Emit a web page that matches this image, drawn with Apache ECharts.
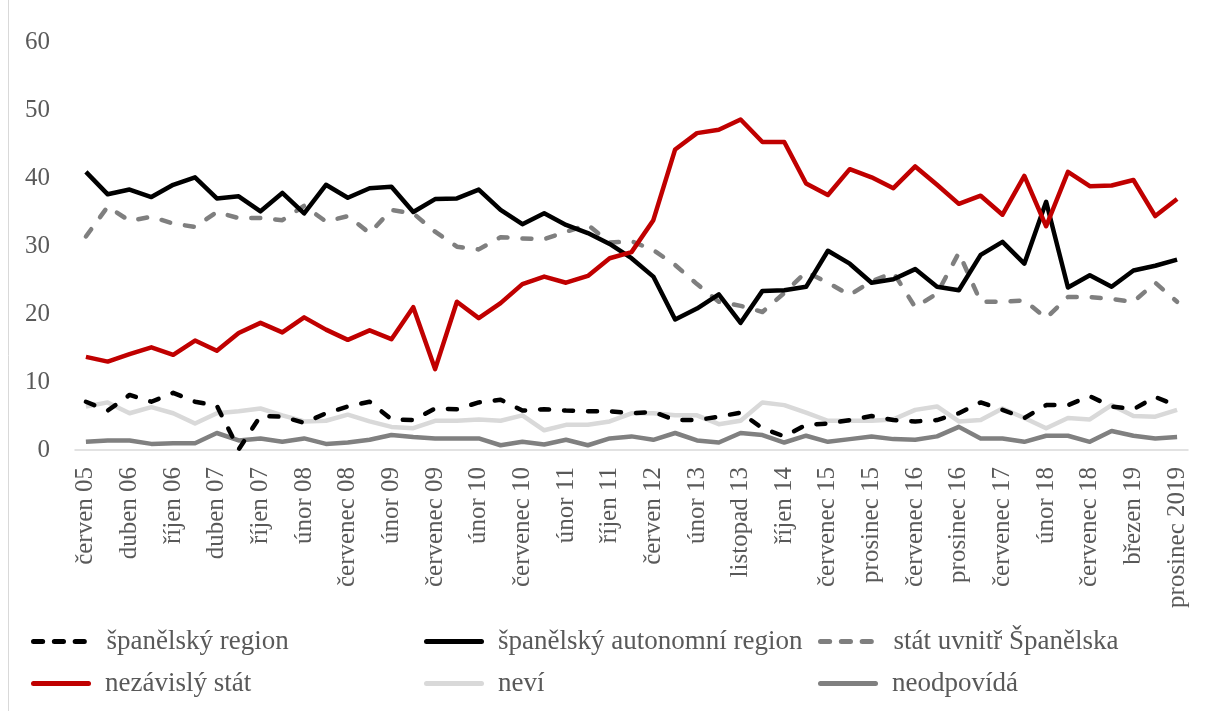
<!DOCTYPE html>
<html>
<head>
<meta charset="utf-8">
<script src="https://cdn.jsdelivr.net/npm/echarts@6/dist/echarts.min.js"></script>
<style>
html,body{margin:0;padding:0;background:#fff;}
#chart{width:1208px;height:711px;}
</style>
</head>
<body>
<div id="chart"></div>
<script>
const categories = [
  'červen 05','listopad 05','duben 06','červenec 06','říjen 06','leden 07','duben 07','červenec 07','říjen 07','prosinec 07',
  'únor 08','duben 08','červenec 08','listopad 08','únor 09','duben 09','červenec 09','listopad 09','únor 10','duben 10',
  'červenec 10','listopad 10','únor 11','červen 11','říjen 11','únor 12','červen 12','říjen 12','únor 13','červen 13',
  'listopad 13','březen 14','říjen 14','březen 15','červenec 15','říjen 15','prosinec 15','březen 16','červenec 16','říjen 16',
  'prosinec 16','březen 17','červenec 17','říjen 17','únor 18','duben 18','červenec 18','listopad 18','březen 19','červenec 19',
  'prosinec 2019'
];
const spanelskyRegion = [7.1,5.8,8.1,7.1,8.4,7.1,6.5,0.1,5.0,4.9,4.0,5.4,6.4,7.1,4.5,4.4,6.1,6.0,7.0,7.4,5.8,6.0,5.8,5.7,5.7,5.4,5.6,4.4,4.4,4.9,5.5,3.2,2.0,3.7,3.9,4.4,5.0,4.4,4.2,4.4,5.4,7.0,5.9,4.7,6.6,6.6,7.9,6.4,6.0,7.8,6.5];
const autonomniRegion = [40.9,37.6,38.3,37.2,39.0,40.1,37.0,37.3,35.1,37.8,34.8,39.0,37.1,38.5,38.7,35.0,36.9,37.0,38.3,35.3,33.2,34.8,33.1,31.9,30.3,28.2,25.5,19.2,20.8,22.9,18.7,23.4,23.5,24.0,29.3,27.4,24.6,25.1,26.6,24.0,23.5,28.7,30.6,27.4,36.5,23.9,25.7,24.0,26.4,27.1,28.0];
const statUvnitr = [31.4,35.8,33.7,34.3,33.3,32.8,35.0,34.1,34.1,33.8,35.9,33.6,34.4,31.9,35.3,34.8,32.1,29.9,29.5,31.3,31.1,31.0,32.1,33.1,30.5,30.7,29.4,27.2,24.4,21.8,21.2,20.3,23.1,26.2,24.6,22.8,24.8,26.1,21.0,23.0,29.0,21.8,21.8,22.0,19.4,22.5,22.5,22.2,21.8,24.6,21.8];
const nezavislyStat = [13.7,13.0,14.1,15.1,14.0,16.1,14.6,17.2,18.7,17.3,19.5,17.7,16.2,17.6,16.3,21.0,11.9,21.8,19.4,21.6,24.4,25.5,24.6,25.6,28.2,29.1,33.8,44.2,46.6,47.1,48.6,45.3,45.3,39.2,37.5,41.3,40.1,38.5,41.7,39.0,36.2,37.4,34.6,40.3,32.9,40.9,38.8,38.9,39.7,34.4,36.9];
const nevi = [6.4,7.0,5.4,6.3,5.4,3.9,5.4,5.7,6.1,5.1,4.2,4.3,5.2,4.2,3.4,3.2,4.3,4.3,4.5,4.3,5.1,2.9,3.7,3.7,4.2,5.4,5.4,5.1,5.1,3.8,4.3,7.0,6.6,5.5,4.3,4.3,4.3,4.5,5.9,6.4,4.2,4.4,6.1,4.7,3.2,4.7,4.5,6.6,5.0,4.9,5.9];
const neodpovida = [1.2,1.4,1.4,0.9,1.0,1.0,2.5,1.4,1.7,1.2,1.7,0.9,1.1,1.5,2.2,1.9,1.7,1.7,1.7,0.7,1.2,0.8,1.5,0.7,1.7,2.0,1.5,2.5,1.4,1.1,2.5,2.2,1.1,2.1,1.2,1.6,2.0,1.6,1.5,2.0,3.4,1.7,1.7,1.2,2.1,2.1,1.2,2.8,2.1,1.7,1.9];
const yTicks = [0,10,20,30,40,50,60];

const FONT = 'Liberation Serif';
const LW = 4.5;
const dash = [9, 15];

const chart = echarts.init(document.getElementById('chart'), null, {renderer:'canvas'});

function mk(name, data, color, dashed, z) {
  return {
    name, type:'line', data, symbol:'none', smooth:false, z: z,
    lineStyle:{color, width:LW, type: dashed ? dash : 'solid', cap: dashed ? 'round' : 'butt', join:'round'},
    itemStyle:{color},
    emphasis:{disabled:true}
  };
}

const seriesDefs = [
  mk('španělský region', spanelskyRegion, '#000000', true, 6),
  mk('španělský autonomní region', autonomniRegion, '#000000', false, 5),
  mk('stát uvnitř Španělska', statUvnitr, '#7f7f7f', true, 4),
  mk('nezávislý stát', nezavislyStat, '#c00000', false, 7),
  mk('neví', nevi, '#d9d9d9', false, 2),
  mk('neodpovídá', neodpovida, '#808080', false, 3)
];

const SOLID_ICON = 'path://M3,0h66a3,3 0 0 1 0,6h-66a3,3 0 0 1 0,-6z';
const DASH_ICON = 'path://M3,0h11a3,3 0 0 1 0,6h-11a3,3 0 0 1 0,-6zM28,0h11a3,3 0 0 1 0,6h-11a3,3 0 0 1 0,-6zM53,0h11a3,3 0 0 1 0,6h-11a3,3 0 0 1 0,-6z';
const dashedFlags = [true,false,true,false,false,false];

const legendPos = [
  {left:31, top:628}, {left:424, top:628}, {left:818, top:628},
  {left:31, top:670}, {left:424, top:670}, {left:818, top:670}
];
const legends = seriesDefs.map((s, i) => ({
  data:[{name:s.name, icon: dashedFlags[i] ? DASH_ICON : SOLID_ICON}],
  left: legendPos[i].left, top: legendPos[i].top, padding:0,
  itemWidth: dashedFlags[i] ? 67 : 72, itemHeight:5, itemGap:0, selectedMode:false,
  textStyle:{fontFamily:FONT, fontSize:27, color:'#595959', padding:[0,0,0, dashedFlags[i] ? 9 : 3]}
}));

chart.setOption({
  animation:false,
  backgroundColor:'#ffffff',
  grid:{left:75, right:20, top:42, bottom:261, containLabel:false},
  legend: legends,
  xAxis:{
    type:'category', data:categories, boundaryGap:true,
    axisLine:{show:true, lineStyle:{color:'#d9d9d9', width:1.5}},
    axisTick:{show:false},
    axisLabel:{rotate:90, interval:1, margin:17, fontFamily:FONT, fontSize:25, color:'#595959'},
    splitLine:{show:false}
  },
  yAxis:{
    type:'value', min:yTicks[0], max:yTicks[yTicks.length-1], interval:10,
    axisLine:{show:false}, axisTick:{show:false},
    axisLabel:{margin:25, fontFamily:FONT, fontSize:25, color:'#595959'},
    splitLine:{show:false}
  },
  graphic:[{type:'line', shape:{x1:8.5, y1:0, x2:8.5, y2:711}, style:{stroke:'#d9d9d9', lineWidth:1}}],
  series: seriesDefs
});
</script>
</body>
</html>
